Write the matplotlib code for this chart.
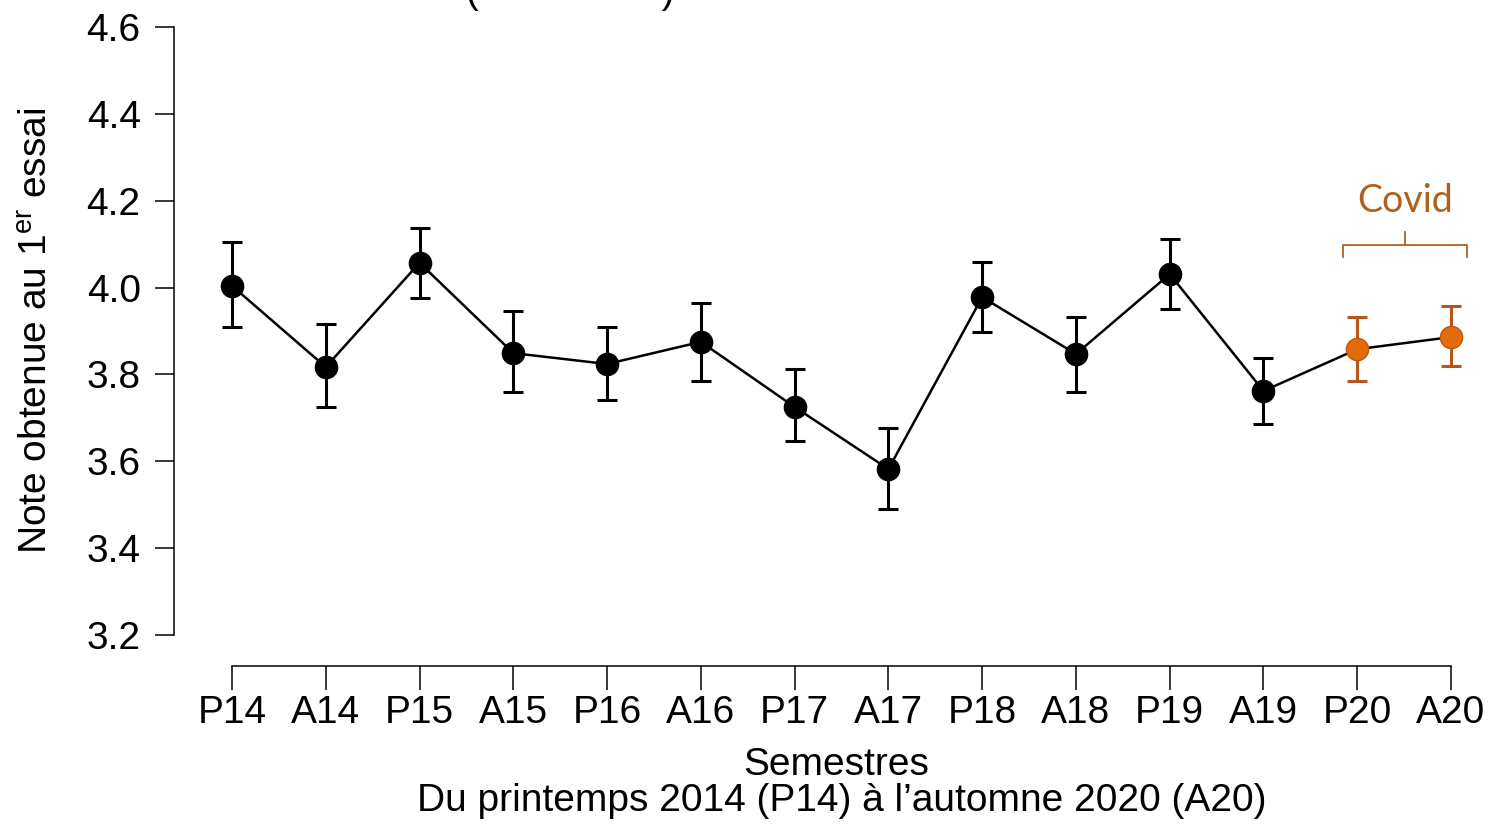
import matplotlib
matplotlib.use("Agg")
import matplotlib.pyplot as plt
import numpy as np

# semesters and mean scores (with error bar limits)
semestres = ["P14", "A14", "P15", "A15", "P16", "A16", "P17",
             "A17", "P18", "A18", "P19", "A19", "P20", "A20"]
moyenne = [4.004, 3.817, 4.057, 3.849, 3.824, 3.875, 3.725,
           3.582, 3.978, 3.847, 4.031, 3.762, 3.858, 3.886]
err_haut = [4.105, 3.916, 4.137, 3.946, 3.909, 3.964, 3.812,
            3.677, 4.059, 3.932, 4.112, 3.838, 3.932, 3.958]
err_bas = [3.909, 3.725, 3.976, 3.760, 3.741, 3.785, 3.647,
           3.490, 3.898, 3.760, 3.951, 3.686, 3.785, 3.819]
covid = ["P20", "A20"]
y_ticks = [3.2, 3.4, 3.6, 3.8, 4.0, 4.2, 4.4, 4.6]

plt.rcParams['font.family'] = ['Liberation Sans', 'DejaVu Sans']
plt.rcParams['mathtext.fontset'] = 'custom'
plt.rcParams['mathtext.rm'] = 'Liberation Sans'

FS = 28

x = np.arange(len(semestres))
moy = np.array(moyenne)
lo = moy - np.array(err_bas)
hi = np.array(err_haut) - moy
is_cov = np.array([s in covid for s in semestres])

fig = plt.figure(figsize=(14.91, 8.24), dpi=100)
ax = fig.add_axes([174/1491, 1-666/824, (1480-174)/1491, (666-27)/824])
ax.set_xlim(-0.6186, 13.309)
ax.set_ylim(3.1286, 4.6)

ax.plot(x, moy, color='black', lw=1.8, zorder=2, clip_on=False)
# black points
n = ~is_cov
ax.errorbar(x[n], moy[n], yerr=[lo[n], hi[n]], fmt='none', ecolor='black',
            elinewidth=2.2, capsize=7, capthick=2.2, zorder=3)
ax.plot(x[n], moy[n], 'o', color='black', ms=16, zorder=4)
# covid points
ax.errorbar(x[is_cov], moy[is_cov], yerr=[lo[is_cov], hi[is_cov]], fmt='none',
            ecolor='#B5561A', elinewidth=2.2, capsize=7, capthick=2.2, zorder=3)
ax.plot(x[is_cov], moy[is_cov], 'o', color='#E36C0A', mec='#C0570E', mew=1,
        ms=16, zorder=4)

# Covid bracket
i0, i1 = semestres.index("P20"), semestres.index("A20")
bx0, bx1 = i0 - 0.15, i1 + 0.17
bm = (bx0 + bx1) / 2
bcol = '#B0601E'
ax.plot([bx0, bx0, bx1, bx1], [4.070, 4.098, 4.098, 4.070], color=bcol, lw=1.3,
        clip_on=False)
ax.plot([bm, bm], [4.098, 4.128], color=bcol, lw=1.3, clip_on=False)
ax.text(bm, 4.200, "Covid", color=bcol, fontsize=27, family=['Lato', 'DejaVu Sans'],
        ha='center', va='center')

for s in ['top', 'right']:
    ax.spines[s].set_visible(False)
ax.spines['left'].set_bounds(3.2, 4.6)
ax.spines['bottom'].set_bounds(0, 13)
ax.spines['left'].set_linewidth(1.1)
ax.spines['bottom'].set_linewidth(1.1)

ax.set_yticks(y_ticks)
ax.set_yticklabels([f"{v:.1f}" for v in y_ticks])
ax.set_xticks(x)
ax.set_xticklabels(semestres)
ax.tick_params(axis='y', length=14, width=1.1, pad=10, labelsize=FS)
ax.tick_params(axis='x', length=17, width=1.1, pad=4, labelsize=FS)

ax.set_ylabel("Note obtenue au 1$^{\\mathrm{er}}$ essai", fontsize=FS)
ax.yaxis.set_label_coords(-0.0911, 0.524)
fig.text(836/1491, 1-765/824, "Semestres", fontsize=FS, ha='center', va='center')
fig.text(842/1491, 1-801/824, "Du printemps 2014 (P14) à l’automne 2020 (A20)",
         fontsize=FS, ha='center', va='center')
# title cut off at the top of the picture
fig.text(570/1491, 1-3/824, "(                 )", fontsize=FS, ha='center',
         va='baseline')

fig.savefig("out.png", dpi=100)
